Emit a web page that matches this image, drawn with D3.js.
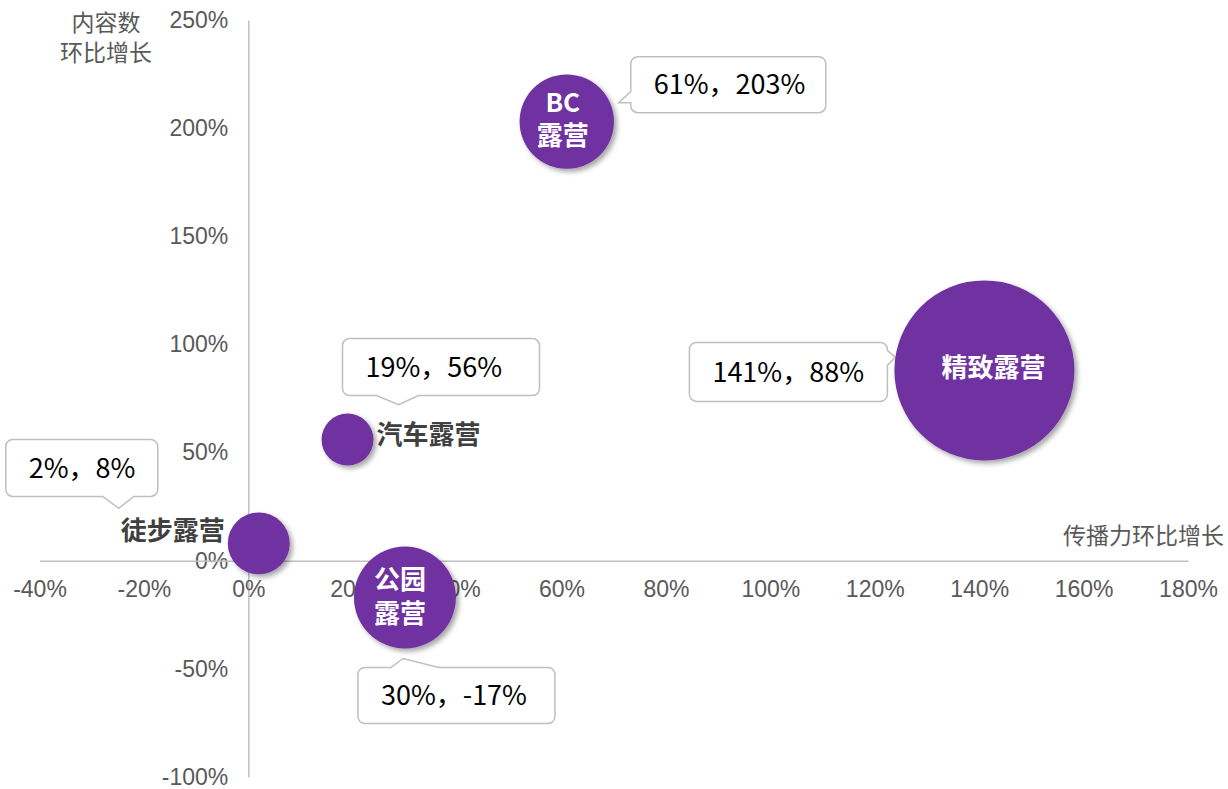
<!DOCTYPE html>
<html>
<head>
<meta charset="utf-8">
<script src="https://cdn.jsdelivr.net/npm/d3@7/dist/d3.min.js"></script>
<style>
  body { margin: 0; background: #fff; }
  svg { display: block; }
  .tick text { font-family: "Liberation Sans", Arial, sans-serif; font-size: 23px; fill: #595959; }
  .axis path { stroke: #BFBFBF; stroke-width: 1.5; }
  .axis-title { font-family: "Noto Sans CJK SC", sans-serif; font-size: 23px; fill: #595959; }
  .callout path { fill: #fff; stroke: #BFBFBF; stroke-width: 1.5; }
  .callout text { font-family: "Noto Sans CJK SC", sans-serif; font-size: 27px; fill: #000; }
  .bubble-label { font-family: "Noto Sans CJK SC", sans-serif; font-size: 26px; font-weight: bold; }
</style>
</head>
<body>
<div class="chart"></div>
<script>
'use strict';

// 传播力环比增长 (x), 内容数环比增长 (y), bubble size (relative volume)
var names = ["BC露营", "精致露营", "汽车露营", "徒步露营", "公园露营"];
var spreadGrowth = [61, 141, 19, 2, 30];
var contentGrowth = [203, 88, 56, 8, -17];
var bubbleSize = [3.3, 12, 1, 1.42, 3.85];

var xTicks = [-40, -20, 0, 20, 40, 60, 80, 100, 120, 140, 160, 180];
var yTicks = [-100, -50, 0, 50, 100, 150, 200, 250];

var xTitle = "传播力环比增长";
var yTitle = ["内容数", "环比增长"];

// layout only: callout boxes / tails and label placement, relative to bubble centre
var layout = {
  "BC露营":   { box: [64, -65, 195, 56],   tail: ["left", 35, 46, 52, -19],
               label: { lines: ["BC", "露营"], anchor: "middle", dx: -4, dy: -19, lh: 32.5, color: "#fff" } },
  "精致露营": { box: [-295, -28, 198, 59], tail: ["right", 8, 23, -89, -13],
               label: { lines: ["精致露营"], anchor: "middle", dx: 9, dy: -3, lh: 0, color: "#fff" } },
  "汽车露营": { box: [-5, -101, 197, 57],  tail: ["bottom", 34, 76, 51, -35],
               label: { lines: ["汽车露营"], anchor: "start", dx: 29, dy: -5, lh: 0, color: "#404040" } },
  "徒步露营": { box: [-253, -104, 152, 57], tail: ["bottom", 97, 128, -140, -35],
               label: { lines: ["徒步露营"], anchor: "end", dx: -34, dy: -13, lh: 0, color: "#404040" } },
  "公园露营": { box: [-47, 70, 197, 56],   tail: ["top", 33, 81, -2, 61],
               label: { lines: ["公园", "露营"], anchor: "middle", dx: -5, dy: -18, lh: 33.5, color: "#fff" } }
};
var calloutPad = 23;

var width = 1228, height = 789;

var data = names.map(function(n, i) {
  return { name: n, x: spreadGrowth[i], y: contentGrowth[i], size: bubbleSize[i] };
});

var x = d3.scaleLinear().domain([-40, 180]).range([39.5, 1188]);
var y = d3.scaleLinear().domain([-100, 250]).range([777, 20]);
var r = d3.scaleSqrt().domain([0, 12]).range([0, 90]);

var svg = d3.select(".chart").append("svg")
    .attr("width", width)
    .attr("height", height);

var defs = svg.append("defs");
defs.append("filter")
    .attr("id", "shadow")
    .attr("x", "-30%").attr("y", "-30%")
    .attr("width", "160%").attr("height", "160%")
  .append("feDropShadow")
    .attr("dx", 3)
    .attr("dy", 3)
    .attr("stdDeviation", 2.5)
    .attr("flood-color", "#000")
    .attr("flood-opacity", 0.35);

var fmt = function(d) { return d + "%"; };

// y axis sits on x = 0
svg.append("g")
    .attr("class", "axis")
    .attr("transform", "translate(" + x(0) + ",0)")
    .call(d3.axisLeft(y).tickValues(yTicks).tickFormat(fmt).tickSize(0).tickSizeOuter(0).tickPadding(20));

// x axis sits on y = 0
svg.append("g")
    .attr("class", "axis")
    .attr("transform", "translate(0," + y(0) + ")")
    .call(d3.axisBottom(x).tickValues(xTicks).tickFormat(fmt).tickSize(0).tickSizeOuter(0).tickPadding(20));

svg.append("text")
    .attr("class", "axis-title")
    .attr("x", 1224)
    .attr("y", 535)
    .attr("dy", "0.37em")
    .attr("text-anchor", "end")
    .text(xTitle);

svg.append("text")
    .attr("class", "axis-title")
    .attr("text-anchor", "middle")
    .selectAll("tspan")
    .data(yTitle)
  .enter().append("tspan")
    .attr("x", 106)
    .attr("y", function(d, i) { return 22 + i * 30; })
    .attr("dy", "0.37em")
    .text(String);

function calloutPath(b, t, cx, cy) {
  var bx = cx + b[0], by = cy + b[1], w = b[2], h = b[3], rr = 7;
  var side = t[0], a = t[1], c = t[2], tx = cx + t[3], ty = cy + t[4];
  var p = "M" + (bx + rr) + "," + by;
  if (side == "top") p += "L" + (bx + a) + "," + by + "L" + tx + "," + ty + "L" + (bx + c) + "," + by;
  p += "L" + (bx + w - rr) + "," + by + "A" + rr + "," + rr + " 0 0,1 " + (bx + w) + "," + (by + rr);
  if (side == "right") p += "L" + (bx + w) + "," + (by + a) + "L" + tx + "," + ty + "L" + (bx + w) + "," + (by + c);
  p += "L" + (bx + w) + "," + (by + h - rr) + "A" + rr + "," + rr + " 0 0,1 " + (bx + w - rr) + "," + (by + h);
  if (side == "bottom") p += "L" + (bx + c) + "," + (by + h) + "L" + tx + "," + ty + "L" + (bx + a) + "," + (by + h);
  p += "L" + (bx + rr) + "," + (by + h) + "A" + rr + "," + rr + " 0 0,1 " + bx + "," + (by + h - rr);
  if (side == "left") p += "L" + bx + "," + (by + c) + "L" + tx + "," + ty + "L" + bx + "," + (by + a);
  p += "L" + bx + "," + (by + rr) + "A" + rr + "," + rr + " 0 0,1 " + (bx + rr) + "," + by + "Z";
  return p;
}

// callouts
var callout = svg.append("g").selectAll("g.callout")
    .data(data)
  .enter().append("g")
    .attr("class", "callout");

callout.append("path")
    .attr("d", function(d) {
      var l = layout[d.name];
      return calloutPath(l.box, l.tail, x(d.x), y(d.y));
    });

callout.append("text")
    .attr("x", function(d) { return x(d.x) + layout[d.name].box[0] + calloutPad; })
    .attr("y", function(d) { var b = layout[d.name].box; return y(d.y) + b[1] + b[3] / 2; })
    .attr("dy", "0.36em")
    .text(function(d) { return d.x + "%，" + d.y + "%"; });

// bubbles
svg.append("g").selectAll("circle")
    .data(data)
  .enter().append("circle")
    .attr("cx", function(d) { return x(d.x); })
    .attr("cy", function(d) { return y(d.y); })
    .attr("r", function(d) { return r(d.size); })
    .attr("fill", "#7030A0")
    .attr("filter", "url(#shadow)");

// bubble labels
var label = svg.append("g").selectAll("text")
    .data(data)
  .enter().append("text")
    .attr("class", "bubble-label")
    .attr("text-anchor", function(d) { return layout[d.name].label.anchor; })
    .attr("fill", function(d) { return layout[d.name].label.color; });

label.selectAll("tspan")
    .data(function(d) {
      var l = layout[d.name].label;
      return l.lines.map(function(s, i) {
        return { text: s, x: x(d.x) + l.dx, y: y(d.y) + l.dy + i * l.lh };
      });
    })
  .enter().append("tspan")
    .attr("x", function(d) { return d.x; })
    .attr("y", function(d) { return d.y; })
    .attr("dy", "0.37em")
    .text(function(d) { return d.text; });
</script>
</body>
</html>
